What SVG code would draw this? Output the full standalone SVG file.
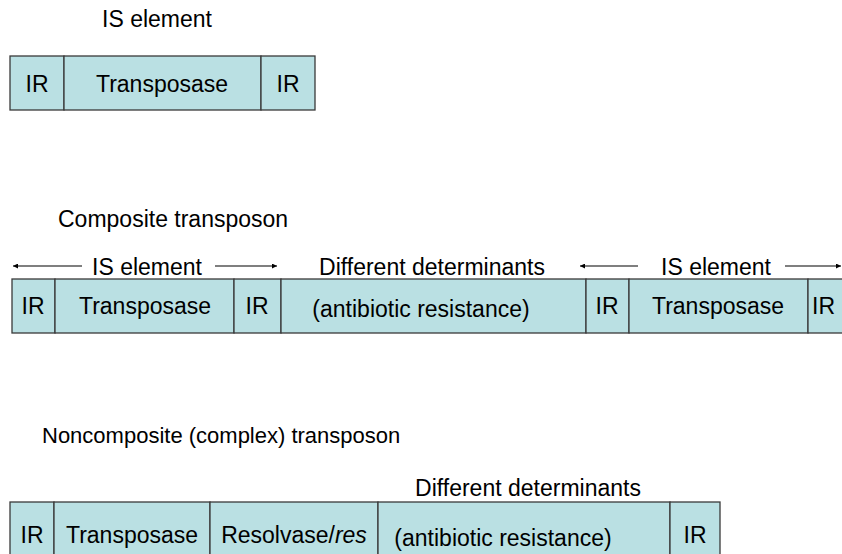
<svg xmlns="http://www.w3.org/2000/svg" width="842" height="554" viewBox="0 0 842 554">
<style>
.cell{fill:#BAE0E3;stroke:#3a3a3a;stroke-width:1.3}
.t{font-family:"Liberation Sans",Arial,sans-serif;font-size:23px;fill:#000}
.m{text-anchor:middle}
.ar{stroke:#000;stroke-width:1.2;fill:none}
</style>
<defs>
<marker id="ah" viewBox="0 0 10 10" refX="10" refY="5" markerWidth="7" markerHeight="5" orient="auto-start-reverse" markerUnits="userSpaceOnUse">
<path d="M0,0 L10,5 L0,10 z" fill="#000"/>
</marker>
</defs>
<rect width="842" height="554" fill="#fff"/>

<g id="is-element">
<text class="t m" x="157" y="27">IS element</text>
<rect class="cell" x="10" y="56" width="54" height="54"/>
<rect class="cell" x="64" y="56" width="197" height="54"/>
<rect class="cell" x="261" y="56" width="54" height="54"/>
<text class="t m" x="37" y="92">IR</text>
<text class="t m" x="162" y="92">Transposase</text>
<text class="t m" x="288" y="92">IR</text>
</g>

<g id="composite">
<text class="t" x="58" y="227">Composite transposon</text>
<text class="t m" x="147" y="275">IS element</text>
<text class="t m" x="432" y="275">Different determinants</text>
<text class="t m" x="716" y="275">IS element</text>
<rect class="cell" x="12" y="279" width="43" height="54"/>
<rect class="cell" x="55" y="279" width="179" height="54"/>
<rect class="cell" x="234" y="279" width="47" height="54"/>
<rect class="cell" x="281" y="279" width="305" height="54"/>
<rect class="cell" x="586" y="279" width="43" height="54"/>
<rect class="cell" x="629" y="279" width="179" height="54"/>
<rect class="cell" x="808" y="279" width="45" height="54"/>
<text class="t m" x="33" y="314">IR</text>
<text class="t m" x="145" y="314">Transposase</text>
<text class="t m" x="257" y="314">IR</text>
<text class="t m" x="421" y="317">(antibiotic resistance)</text>
<text class="t m" x="607" y="314">IR</text>
<text class="t m" x="718" y="314">Transposase</text>
<text class="t" x="812" y="314">IR</text>
</g>

<g id="connectors">
<line class="ar" x1="82" y1="266" x2="13" y2="266" marker-end="url(#ah)"/>
<line class="ar" x1="215" y1="266" x2="277" y2="266" marker-end="url(#ah)"/>
<line class="ar" x1="638" y1="266" x2="580" y2="266" marker-end="url(#ah)"/>
<line class="ar" x1="785" y1="266" x2="841" y2="266" marker-end="url(#ah)"/>
</g>

<g id="noncomposite">
<text class="t" x="42" y="443" style="font-size:22px">Noncomposite (complex) transposon</text>
<text class="t m" x="528" y="496">Different determinants</text>
<rect class="cell" x="10" y="502" width="44" height="60"/>
<rect class="cell" x="54" y="502" width="156" height="60"/>
<rect class="cell" x="210" y="502" width="168" height="60"/>
<rect class="cell" x="378" y="502" width="292" height="60"/>
<rect class="cell" x="670" y="502" width="50" height="60"/>
<text class="t m" x="32" y="543">IR</text>
<text class="t m" x="132" y="543">Transposase</text>
<text class="t m" x="294" y="543">Resolvase/<tspan font-style="italic">res</tspan></text>
<text class="t m" x="503" y="546">(antibiotic resistance)</text>
<text class="t m" x="695" y="543">IR</text>
</g>
</svg>
